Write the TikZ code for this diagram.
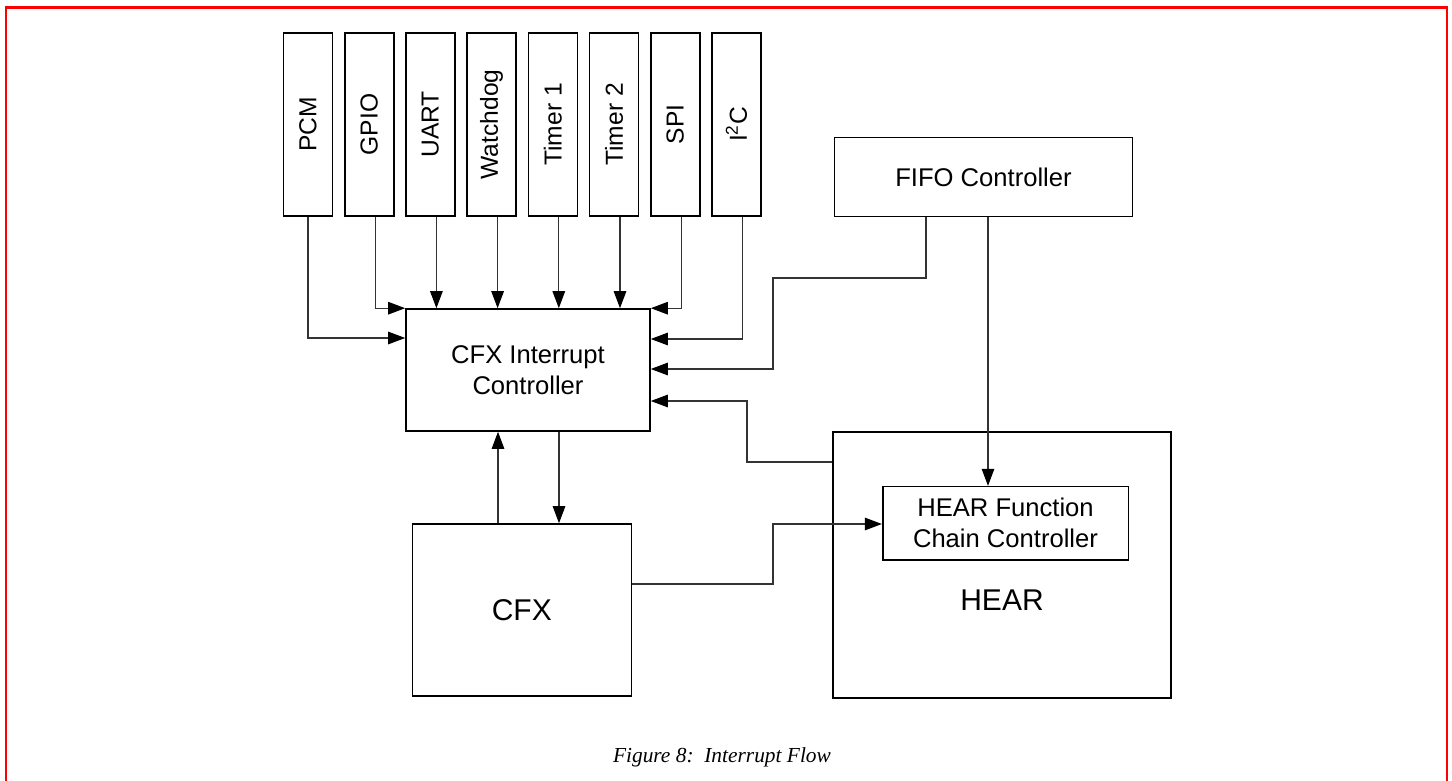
\documentclass[tikz,border=0pt]{standalone}
\usepackage{fontspec}
\usepackage{graphicx}
\setmainfont{Liberation Sans}
\newfontfamily\captionserif{Liberation Serif}
\usetikzlibrary{arrows.meta,calc}

\tikzset{
  blk/.style={draw=black, line width=1.6pt, inner sep=0pt, fill=white,
              font=\fontsize{25.6}{31}\selectfont, align=center},
  periph/.style={blk, minimum width=49pt, minimum height=183pt,
                 font=\fontsize{24.6}{29}\selectfont},
  wire/.style={draw=black!80, line width=1.1pt},
  arr/.style={wire, -{Triangle[length=17pt,width=12.5pt,color=black]}},
  bigtext/.style={font=\fontsize{30}{36}\selectfont},
}

\begin{document}
\begin{tikzpicture}[x=1pt,y=-1pt]
  \useasboundingbox (0,0) rectangle (1452,781);
  \fill[white] (0,0) rectangle (1452,781);

  % page frame
  \draw[red, line width=2.2pt] (6,785) -- (6,7.5) -- (1447,7.5) -- (1447,785);

  % peripheral interrupt sources
  \node[periph] (pcm)   at (308.0,124.5) {\rotatebox{90}{PCM}};
  \node[periph] (gpio)  at (369.2,124.5) {\rotatebox{90}{GPIO}};
  \node[periph] (uart)  at (430.4,124.5) {\rotatebox{90}{UART}};
  \node[periph] (wdog)  at (491.6,124.5) {\rotatebox{90}{Watchdog}};
  \node[periph] (tmr1)  at (552.8,124.5) {\rotatebox{90}{Timer 1}};
  \node[periph] (tmr2)  at (614.0,124.5) {\rotatebox{90}{Timer 2}};
  \node[periph] (spi)   at (675.2,124.5) {\rotatebox{90}{SPI}};
  \node[periph] (iic)   at (736.4,124.5) {\rotatebox{90}{I\textsuperscript{2}C}};

  % main blocks
  \node[blk, minimum width=244pt, minimum height=122pt] (cic) at (528,370)
       {CFX Interrupt\\Controller};
  \node[blk, minimum width=298pt, minimum height=79pt] (fifo) at (983.5,177)
       {FIFO Controller};
  \node[blk, minimum width=338pt, minimum height=266pt] (hear) at (1002,565) {};
  \node[blk, minimum width=245.6pt, minimum height=73.3pt] (fcc) at (1005.5,523.3)
       {HEAR Function\\Chain Controller};
  \node[bigtext] (hearlabel) at (1002,600) {HEAR};
  \node[blk, bigtext, minimum width=219pt, minimum height=172pt] (cfx) at (521.8,610)
       {CFX};

  % outlet points of the peripheral lines
  \coordinate (gpioout) at ($(gpio.south)+(6,0)$);
  \coordinate (uartout) at ($(uart.south)+(6,0)$);
  \coordinate (wdogout) at ($(wdog.south)+(6,0)$);
  \coordinate (tmr1out) at ($(tmr1.south)+(6,0)$);
  \coordinate (tmr2out) at ($(tmr2.south)+(6,0)$);
  \coordinate (spiout)  at ($(spi.south)+(6,0)$);
  \coordinate (iicout)  at ($(iic.south)+(6,0)$);

  % interrupt lines into the controller
  \draw[arr] (pcm.south) |- (cic.west |- 0,338);
  \draw[arr] (gpioout) |- (cic.north west);
  \draw[arr] (uartout) -- (uartout |- cic.north);
  \draw[arr] (wdogout) -- (wdogout |- cic.north);
  \draw[arr] (tmr1out) -- (tmr1out |- cic.north);
  \draw[arr] (tmr2out) -- (tmr2out |- cic.north);
  \draw[arr] (spiout) |- (cic.north east);
  \draw[arr] (iicout) |- (cic.east |- 0,339);

  % FIFO controller
  \draw[arr] (fifo.south -| 926,0) |- (773,278) |- (cic.east |- 0,369);
  \draw[arr] (fifo.south -| 988,0) -- (fcc.north -| 988,0);

  % HEAR back to the controller
  \draw[arr] (hear.west |- 0,462) -| (747,401) -- (cic.east |- 0,401);

  % controller <-> CFX
  \draw[arr] (cic.south -| 559,0) -- (cfx.north -| 559,0);
  \draw[arr] (cfx.north -| 498,0) -- (cic.south -| 498,0);

  % CFX to the function chain controller
  \draw[arr] (cfx.east |- 0,584) -| (773,524) -- (fcc.west |- 0,524);

  % caption
  \node[font=\captionserif\itshape\fontsize{21.4}{26}\selectfont] (caption)
       at (722,757) {Figure 8:\ \ Interrupt Flow};
\end{tikzpicture}
\end{document}
